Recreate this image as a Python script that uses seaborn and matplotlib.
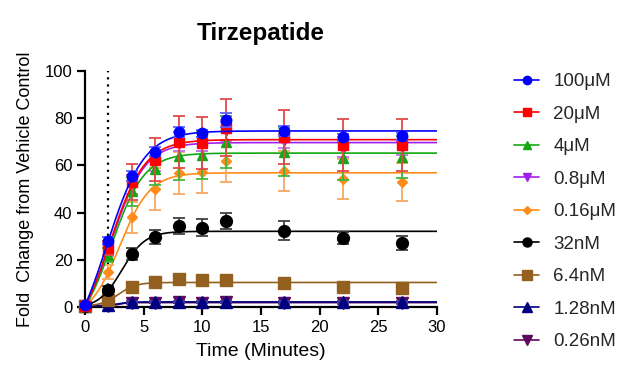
import numpy as np
import pandas as pd
import matplotlib
matplotlib.use("Agg")
import matplotlib.pyplot as plt
import seaborn as sns
from matplotlib.lines import Line2D

# ---------------- data ----------------
time_min = [0, 2, 4, 6, 8, 10, 12, 17, 22, 27]

labels = ["100μM", "20μM", "4μM", "0.8μM", "0.16μM", "32nM", "6.4nM", "1.28nM", "0.26nM"]

m_100uM = [0.8, 28.0, 55.5, 65.8, 74.2, 73.7, 79.2, 74.6, 72.0, 72.4]
e_100uM = [0.5, 1.5, 2.0, 2.0, 2.0, 1.5, 3.0, 2.0, 1.5, 1.5]
m_20uM = [0.5, 25.0, 53.0, 62.5, 69.8, 69.5, 76.0, 72.0, 68.6, 68.6]
e_20uM = [0.5, 3.0, 7.5, 9.0, 11.0, 11.0, 12.0, 11.5, 11.0, 11.0]
m_4uM = [0.5, 22.0, 49.0, 58.5, 64.0, 64.4, 70.0, 65.7, 63.0, 63.5]
e_4uM = [0.5, 3.0, 6.0, 7.0, 10.0, 10.0, 11.0, 10.0, 9.0, 9.0]
m_08uM = [0.5, 24.0, 52.0, 61.5, 69.0, 69.0, 74.5, 70.5, 67.0, 67.5]
e_08uM = [0.5, 2.5, 4.0, 4.0, 3.0, 3.0, 4.0, 3.0, 3.5, 3.0]
m_016uM = [0.5, 14.8, 38.0, 50.0, 56.8, 57.2, 61.9, 57.6, 54.2, 53.0]
e_016uM = [0.5, 3.0, 6.5, 9.0, 9.0, 9.0, 9.0, 8.5, 8.5, 8.0]
m_32nM = [0.5, 7.4, 22.3, 29.6, 34.3, 33.6, 36.4, 32.3, 29.1, 27.0]
e_32nM = [0.3, 1.5, 2.5, 3.0, 3.5, 3.5, 3.5, 4.0, 2.5, 3.0]
m_64nM = [0.5, 2.8, 8.5, 10.8, 11.8, 11.6, 11.6, 10.1, 8.6, 8.2]
e_64nM = [0.2, 0.8, 1.0, 1.0, 1.0, 1.0, 1.0, 1.0, 1.0, 1.0]
m_128nM = [0.5, 0.8, 2.0, 2.2, 2.3, 2.2, 2.3, 2.1, 2.0, 2.0]
e_128nM = [0.2, 0.3, 0.4, 0.4, 0.4, 0.4, 0.4, 0.4, 0.4, 0.4]
m_026nM = [0.5, 0.6, 1.8, 1.9, 2.0, 1.9, 2.0, 1.8, 1.7, 1.7]
e_026nM = [0.2, 0.3, 0.4, 0.4, 0.4, 0.4, 0.4, 0.4, 0.4, 0.4]

means = [m_100uM, m_20uM, m_4uM, m_08uM, m_016uM, m_32nM, m_64nM, m_128nM, m_026nM]
errs = [e_100uM, e_20uM, e_4uM, e_08uM, e_016uM, e_32nM, e_64nM, e_128nM, e_026nM]

# ---------------- styles ----------------
colors = ["#0000FF", "#FF0000", "#12A812", "#A020F0", "#FF8C1A",
          "#000000", "#946020", "#000080", "#5E0A5E"]
err_colors = ["#6060FF", "#E04A4A", "#40B840", "#C070F0", "#F5A860",
              "#404040", "#A07840", "#4040A0", "#804080"]
markers = ["o", "s", "^", "v", "D", "o", "s", "^", "v"]
msizes = [7.5, 7.0, 7.0, 7.0, 4.8, 8.5, 8.0, 8.0, 8.0]
lmsizes = [6.0, 5.5, 6.0, 6.0, 4.0, 6.5, 7.0, 7.0, 7.0]


def sigmoid_fit(t, y):
    """Least-squares Boltzmann sigmoid fit (bottom/top solved linearly)."""
    t = np.asarray(t, float)
    y = np.asarray(y, float)
    best = None
    for t50 in np.linspace(0.5, 8, 151):
        for s in np.linspace(0.3, 4, 75):
            f = 1 / (1 + np.exp((t50 - t) / s))
            A = np.column_stack([np.ones_like(f), f])
            coef, *_ = np.linalg.lstsq(A, y, rcond=None)
            sse = ((y - A @ coef) ** 2).sum()
            if best is None or sse < best[0]:
                best = (sse, coef[0], coef[1], t50, s)
    return best[1:]


sns.set_theme(style="ticks")
plt.rcParams["font.family"] = ["Liberation Sans", "DejaVu Sans"]

fig = plt.figure(figsize=(6.4, 3.83), dpi=100)
ax = fig.add_axes([85 / 640, 1 - 307 / 383, (437 - 85) / 640, (307 - 71) / 383])

ax.axvline(2, ymin=0, ymax=1, ls=(0, (1, 2.2)), color="black", lw=1.6, zorder=1)

tt = np.linspace(0, 30, 600)
n_ser = len(labels)
for i in reversed(range(n_ser)):
    b, a, t50, s = sigmoid_fit(time_min, means[i])
    curve = b + a / (1 + np.exp((t50 - tt) / s))
    df = pd.DataFrame({"t": tt, "y": curve})
    z = 2 + (n_ser - i) * 2
    sns.lineplot(data=df, x="t", y="y", ax=ax, color=colors[i], lw=1.2,
                 legend=False, zorder=z)
    ax.errorbar(time_min, means[i], yerr=errs[i], fmt=markers[i], color=colors[i],
                ms=msizes[i], mec=colors[i], ecolor=err_colors[i], elinewidth=1.3,
                capsize=4, capthick=1.3, clip_on=False, zorder=z + 1)

ax.set_xlim(0, 30)
ax.set_ylim(0, 100)
ax.set_xticks([0, 5, 10, 15, 20, 25, 30])
ax.set_yticks([0, 20, 40, 60, 80, 100])
for s in ["top", "right"]:
    ax.spines[s].set_visible(False)
for s in ["left", "bottom"]:
    ax.spines[s].set_linewidth(1.6)
    ax.spines[s].set_color("black")
    ax.spines[s].set_zorder(0.5)
ax.tick_params(axis="both", length=6, width=1.6, color="black", labelsize=12,
               pad=3, labelcolor="black")
ax.set_xlabel("Time (Minutes)", fontsize=14, labelpad=6, color="black")
ax.set_ylabel("Fold  Change from Vehicle Control", fontsize=13, labelpad=8, color="black")
ax.set_title("Tirzepatide", fontsize=17.5, fontweight="bold", pad=22, color="black")

handles = [Line2D([0], [0], color=colors[i], lw=1.2, marker=markers[i],
                  ms=lmsizes[i], mec=colors[i]) for i in range(n_ser)]
fig.legend(handles, labels, loc="upper left", bbox_to_anchor=(514 / 640, 1 - 73 / 383),
           frameon=False, fontsize=13.5, labelspacing=0.82, handlelength=1.35,
           handletextpad=0.75, borderpad=0, borderaxespad=0)

fig.savefig("out.png", dpi=100)
